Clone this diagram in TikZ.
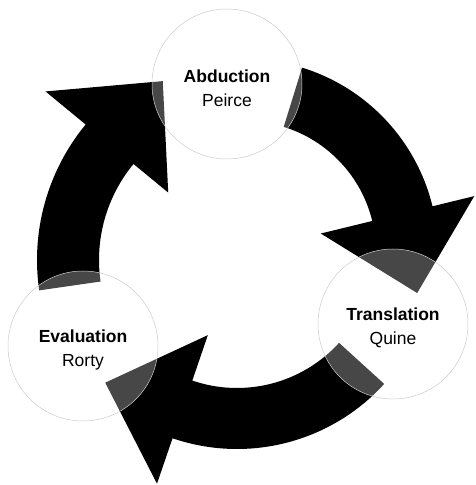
\documentclass[tikz,border=0pt]{standalone}
\usepackage{fontspec}
\setmainfont{Liberation Sans}
\newcommand\stagelabel[2]{{\bfseries #1}\\#2}
\begin{document}
\begin{tikzpicture}[x=1pt,y=1pt,
  stage/.style={circle, minimum size=150pt, inner sep=0pt, draw=black!20, line width=0.5pt,
    fill=white, fill opacity=0.28},
  stagetext/.style={align=center, inner sep=0pt, yshift=-4pt,
    font=\fontsize{17.5}{24}\selectfont},
  bigarrow/.style={fill=black}]
\useasboundingbox (0,0) rectangle (475,485);
\clip (0,0) rectangle (475,485);
% arrow Abduction -> Translation
\begin{scope}[shift={(245,233)}]
\fill[bigarrow] (72.8:193) arc[start angle=72.8,end angle=13.7,radius=193]
  -- (13.7:236) -- (-13.4:177) -- (13.7:78) -- (13.7:131)
  arc[start angle=13.7,end angle=72.8,radius=131] -- cycle;
\end{scope}
% arrow Translation -> Evaluation
\begin{scope}[shift={(237,235)}]
\fill[bigarrow] (-42.3:199) arc[start angle=-42.3,end angle=-108.9,radius=199]
  -- (-108.9:247) -- (-134.8:187) -- (-108.9:90) -- (-108.9:138)
  arc[start angle=-108.9,end angle=-42.3,radius=138] -- cycle;
\end{scope}
% arrow Evaluation -> Abduction
\begin{scope}[shift={(250,225)}]
\fill[bigarrow] (188.2:213) arc[start angle=188.2,end angle=140.5,radius=213]
  -- (140.5:265) -- (116:199) -- (140.5:106) -- (140.5:151)
  arc[start angle=140.5,end angle=188.2,radius=151] -- cycle;
\end{scope}
% stages
\node[stage] (abd) at (227,401) {};
\node[stage] (tra) at (393,161) {};
\node[stage] (eva) at (83,139) {};
\node[stagetext] (abdtext) at (abd) {\stagelabel{Abduction}{Peirce}};
\node[stagetext] (tratext) at (tra) {\stagelabel{Translation}{Quine}};
\node[stagetext] (evatext) at (eva) {\stagelabel{Evaluation}{Rorty}};
\end{tikzpicture}
\end{document}
